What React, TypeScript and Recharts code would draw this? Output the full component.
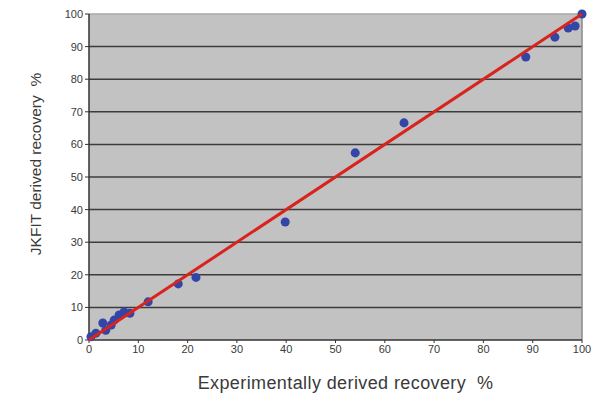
import React from "react";
import {
  ScatterChart,
  Scatter,
  XAxis,
  YAxis,
  CartesianGrid,
  ReferenceLine,
} from "recharts";

// measured points: experimental recovery (x) vs JKFIT recovery (y)
const expRecovery = [0.4, 1.4, 2.8, 3.4, 4.5, 5.1, 6.1, 7.1, 8.3, 12, 18.1, 21.7, 39.8, 54, 63.9, 88.6, 94.5, 97.2, 98.6, 100];
const jkfitRecovery = [1, 2.1, 5.2, 3, 4.6, 6.1, 7.7, 8.6, 8.2, 11.7, 17.2, 19.2, 36.2, 57.4, 66.6, 86.8, 92.9, 95.7, 96.3, 100];

const fitX = [0, 100];
const fitY = [0, 100];

const ticks = [0, 10, 20, 30, 40, 50, 60, 70, 80, 90, 100];
const gridValues = [10, 20, 30, 40, 50, 60, 70, 80, 90];

const xTitle = "Experimentally derived recovery\u00a0\u00a0%";
const yTitle = "JKFIT derived recovery\u00a0\u00a0%";

const points = expRecovery.map((x, i) => ({ x, y: jkfitRecovery[i] }));
const fitLine = fitX.map((x, i) => ({ x, y: fitY[i] }));

const font = "Liberation Sans, Arial, sans-serif";
const tickStyle = { fill: "#3a3a3a", fontSize: 11, fontFamily: font };

function XTitle({ viewBox }: any) {
  const cx = viewBox.x + viewBox.width / 2 + 10;
  return (
    <text
      x={cx}
      y={viewBox.y + 49}
      textAnchor="middle"
      fill="#3a3a3a"
      fontSize={18}
      letterSpacing={0.4}
      fontFamily={font}
    >
      {xTitle}
    </text>
  );
}

function YTitle({ viewBox }: any) {
  // viewBox here is the y-axis band itself
  const cx = viewBox.x - 24;
  const cy = viewBox.y + viewBox.height / 2 - 13;
  return (
    <text
      x={cx}
      y={cy}
      transform={`rotate(-90, ${cx}, ${cy})`}
      textAnchor="middle"
      dominantBaseline="central"
      fill="#3a3a3a"
      fontSize={15.5}
      fontFamily={font}
    >
      {yTitle}
    </text>
  );
}

export default function App() {
  return (
    <div style={{ position: "absolute", left: 0, top: 0, background: "#fff" }}>
      <ScatterChart
        width={593}
        height={395}
        margin={{ top: 14, right: 11, left: 59, bottom: 0 }}
      >
        <CartesianGrid
          fill="#c2c2c2"
          stroke="#3c3c3c"
          strokeWidth={1.5}
          vertical={false}
          horizontalValues={gridValues}
        />
        <XAxis
          type="number"
          dataKey="x"
          domain={[0, 100]}
          ticks={ticks}
          height={55}
          tick={tickStyle}
          tickLine={{ stroke: "#333" }}
          tickSize={3}
          axisLine={{ stroke: "#333", strokeWidth: 1.5 }}
          label={<XTitle />}
        />
        <YAxis
          type="number"
          dataKey="y"
          domain={[0, 100]}
          ticks={ticks}
          width={30}
          tick={tickStyle}
          tickLine={{ stroke: "#333" }}
          tickSize={4}
          axisLine={{ stroke: "#333", strokeWidth: 1.5 }}
          label={<YTitle />}
        />
        <ReferenceLine y={100} stroke="#a8a8a8" strokeWidth={1.5} />
        <ReferenceLine x={100} stroke="#8a8a8a" strokeWidth={1.5} />
        <Scatter data={points} fill="#3346a8" isAnimationActive={false} shape="circle" />
        <Scatter
          data={fitLine}
          line={{ stroke: "#d8241c", strokeWidth: 3 }}
          shape={() => <g />}
          isAnimationActive={false}
        />
      </ScatterChart>
    </div>
  );
}
